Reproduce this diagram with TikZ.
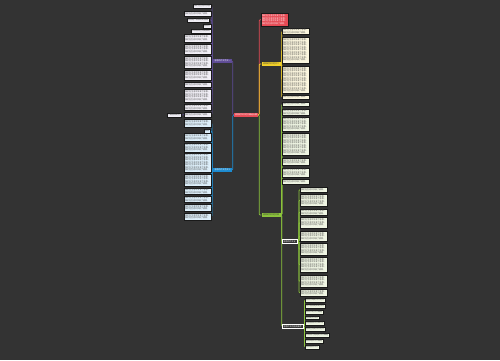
\documentclass[tikz,border=0pt]{standalone}
\usepackage{fontspec}
\newfontfamily\cjk{Noto Sans CJK SC}
\usepackage{xcolor}
\definecolor{bgdark}{HTML}{333333}
\definecolor{rootred}{HTML}{E64B55}
\definecolor{plum}{HTML}{5E4B96}
\definecolor{skyblue}{HTML}{1C8BD0}
\definecolor{mustard}{HTML}{F2D12A}
\definecolor{lime}{HTML}{8CC43C}
\definecolor{lavender}{HTML}{F1EFF6}
\definecolor{iceblue}{HTML}{DDEFFA}
\definecolor{cream}{HTML}{FBF6DE}
\definecolor{mint}{HTML}{EFF5E3}
\usepackage{tikz}
\usetikzlibrary{positioning, backgrounds}
\XeTeXlinebreaklocale "zh"
\XeTeXlinebreakskip=0pt plus 0.5pt
\newcommand{\tinycjk}{\cjk\fontsize{2}{2.5}\selectfont}
\newcommand{\zw}[1]{\foreach \k in {1,...,#1}{我们在生活中学会了感恩，}}

\begin{document}
\begin{tikzpicture}[x=1pt, y=-1pt]
    \tikzstyle{rootnode} = [fill=rootred, text=white, inner sep=0.8pt, minimum height=4pt, minimum width=24pt, font=\tinycjk]
    \tikzstyle{branchnode} = [inner sep=0.8pt, minimum height=4pt, minimum width=19pt, font=\tinycjk]
    \tikzstyle{leafnode} = [draw=black!90, line width=0.45pt, inner sep=0.8pt, anchor=north west, text width=25.4pt, align=left, text=black!75, font=\tinycjk]
    \tikzstyle{tagnode} = [draw=black!90, line width=0.45pt, inner sep=0.8pt, anchor=north west, minimum height=3.6pt, text=black!75, font=\tinycjk]
    \tikzstyle{subnode} = [draw=white!80, line width=0.45pt, fill=bgdark, text=white!85, inner sep=0.8pt, minimum height=3.6pt, anchor=west, font=\tinycjk]
    \tikzstyle{link} = [line width=0.7pt, rounded corners=1pt]

    \useasboundingbox (0,0) rectangle (500,360);

    \node [rootnode] (root) at (246,115) {感恩的作文范文精选五篇};

    % left side
    \node [branchnode, fill=plum, text=white] (pnode) at (222.5,61) {感恩的作文范文一};
    \node [branchnode, fill=skyblue, text=white] (bnode) at (222.5,170) {感恩的作文范文三};

    \node [tagnode, fill=lavender] (p1) at (193,4) {我们在生活中学会};
    \node [leafnode, fill=lavender, minimum height=5pt] (p2) at (184,11) {\zw{1}};
    \node [tagnode, fill=lavender] (p3) at (187,18) {感恩是一种美好的品德};
    \node [tagnode, fill=lavender] (p4) at (203,24) {感恩心};
    \node [tagnode, fill=lavender] (p5) at (191,29) {学会感恩生活更美好};
    \node [leafnode, fill=lavender, minimum height=8pt] (p6) at (184,34) {\zw{2}};
    \node [leafnode, fill=lavender, minimum height=10pt] (p7) at (184,44) {\zw{3}};
    \node [leafnode, fill=lavender, minimum height=12pt] (p8) at (184,56) {\zw{4}};
    \node [leafnode, fill=lavender, minimum height=10pt] (p9) at (184,70) {\zw{3}};
    \node [leafnode, fill=lavender, minimum height=5pt] (p10) at (184,82) {\zw{1}};
    \node [leafnode, fill=lavender, minimum height=13pt] (p11) at (184,89) {\zw{4}};
    \node [leafnode, fill=lavender, minimum height=6pt] (p12) at (184,104) {\zw{2}};
    \node [leafnode, fill=lavender, minimum height=5pt] (p13) at (184,112) {\zw{1}};
    \node [tagnode, fill=lavender] (pq) at (167,113) {一颗感恩的心};

    \node [leafnode, fill=iceblue, minimum height=8pt] (b1) at (184,119) {\zw{2}};
    \node [tagnode, fill=iceblue] (b2) at (204,129) {感恩};
    \node [leafnode, fill=iceblue, minimum height=8pt] (b3) at (184,133) {\zw{2}};
    \node [leafnode, fill=iceblue, minimum height=9pt] (b4) at (184,143) {\zw{3}};
    \node [leafnode, fill=iceblue, minimum height=19pt] (b5) at (184,153) {\zw{7}};
    \node [leafnode, fill=iceblue, minimum height=12pt] (b6) at (184,174) {\zw{4}};
    \node [leafnode, fill=iceblue, minimum height=6pt] (b7) at (184,188) {\zw{2}};
    \node [leafnode, fill=iceblue, minimum height=6pt] (b8) at (184,196) {\zw{2}};
    \node [leafnode, fill=iceblue, minimum height=7pt] (b9) at (184,204) {\zw{2}};
    \node [leafnode, fill=iceblue, minimum height=7pt] (b10) at (184,213) {\zw{2}};

    % right side
    \node [leafnode, fill=rootred, text=white, minimum height=13pt] (sbox) at (261,13) {\zw{4}};
    \node [branchnode, fill=mustard, text=black!80] (ynode) at (271,64) {感恩的作文范文二};
    \node [branchnode, fill=lime, text=black!80] (gnode) at (271,215) {感恩的作文范文四};

    \node [leafnode, fill=cream, minimum height=6pt] (y1) at (282,28) {\zw{2}};
    \node [leafnode, fill=cream, minimum height=26pt] (y2) at (282,37) {\zw{9}};
    \node [leafnode, fill=cream, minimum height=27pt] (y3) at (282,66) {\zw{10}};
    \node [leafnode, fill=cream, minimum height=4pt] (y4) at (282,95) {\zw{1}};

    \node [leafnode, fill=mint, minimum height=4pt] (g1) at (282,102) {\zw{1}};
    \node [leafnode, fill=mint, minimum height=6pt] (g2) at (282,109) {\zw{2}};
    \node [leafnode, fill=mint, minimum height=14pt] (g3) at (282,117) {\zw{5}};
    \node [leafnode, fill=mint, minimum height=22pt] (g4) at (282,133) {\zw{8}};
    \node [leafnode, fill=mint, minimum height=7pt] (g5) at (282,158) {\zw{2}};
    \node [leafnode, fill=mint, minimum height=9pt] (g6) at (282,168) {\zw{3}};
    \node [leafnode, fill=mint, minimum height=5pt] (g7) at (282,179) {\zw{1}};
    \node [subnode, minimum width=15pt] (anode) at (282,241.5) {感恩的作文五};
    \node [subnode, minimum width=21pt] (mnode) at (282,326.5) {感恩作文的相关推荐};

    \node [leafnode, fill=mint, minimum height=5pt] (a1) at (300,187) {\zw{1}};
    \node [leafnode, fill=mint, minimum height=12pt] (a2) at (300,194) {\zw{4}};
    \node [leafnode, fill=mint, minimum height=6pt] (a3) at (300,209) {\zw{2}};
    \node [leafnode, fill=mint, minimum height=11pt] (a4) at (300,217) {\zw{3}};
    \node [leafnode, fill=mint, minimum height=10pt] (a5) at (300,231) {\zw{3}};
    \node [leafnode, fill=mint, minimum height=12pt] (a6) at (300,243) {\zw{4}};
    \node [leafnode, fill=mint, minimum height=15pt] (a7) at (300,257) {\zw{5}};
    \node [leafnode, fill=mint, minimum height=12pt] (a8) at (300,275) {\zw{4}};
    \node [leafnode, fill=mint, minimum height=7pt] (a9) at (300,289) {\zw{2}};

    \node [tagnode, fill=mint] (m1) at (305,298) {感恩父母的作文范文};
    \node [tagnode, fill=mint] (m2) at (305,304) {关于感恩老师的作文};
    \node [tagnode, fill=mint] (m3) at (305,310) {感恩节的作文精选};
    \node [tagnode, fill=mint] (m4) at (305,315.5) {感恩的心作文};
    \node [tagnode, fill=mint] (m5) at (305,321) {学会感恩作文800字};
    \node [tagnode, fill=mint] (m6) at (305,327) {感恩生活的作文范文};
    \node [tagnode, fill=mint] (m7) at (305,333) {以感恩为话题的作文精选};
    \node [tagnode, fill=mint] (m8) at (305,339) {感恩母亲作文精选};
    \node [tagnode, fill=mint] (m9) at (305,345) {感恩朋友作文};

    \begin{scope}[on background layer]
        \fill [bgdark] (0,0) rectangle (500,360);
        \draw [link, plum] (root.west) -- ++(-1,0) |- (pnode.east);
        \draw [link, skyblue] (root.west) -- ++(-1,0) |- (bnode.east);
        \foreach \i in {1,...,13} \draw [link, plum] (pnode.west) -- ++(-0.8,0) |- (p\i.east);
        \draw [link, plum] (p13.west) -- (pq.east);
        \foreach \i in {1,...,10} \draw [link, skyblue] (bnode.west) -- ++(-0.8,0) |- (b\i.east);

        \draw [link, rootred] (root.east) -- ++(1,0) |- (sbox.west);
        \draw [link, lime] (root.east) -- ++(1,0) |- (gnode.west);
        \draw [link, mustard] (root.east) -- ++(1,0) |- (ynode.west);
        \foreach \i in {1,...,4} \draw [link, mustard] (ynode.east) -- ++(1,0) |- (y\i.west);
        \foreach \c in {g1,g2,g3,g4,g5,g6,g7,anode,mnode} \draw [link, lime] (gnode.east) -- ++(1,0) |- (\c.west);
        \foreach \i in {1,...,9} \draw [link, lime] (anode.east) -- ++(1.5,0) |- (a\i.west);
        \foreach \i in {1,...,9} \draw [link, lime] (mnode.east) -- ++(1,0) |- (m\i.west);
    \end{scope}
\end{tikzpicture}
\end{document}
